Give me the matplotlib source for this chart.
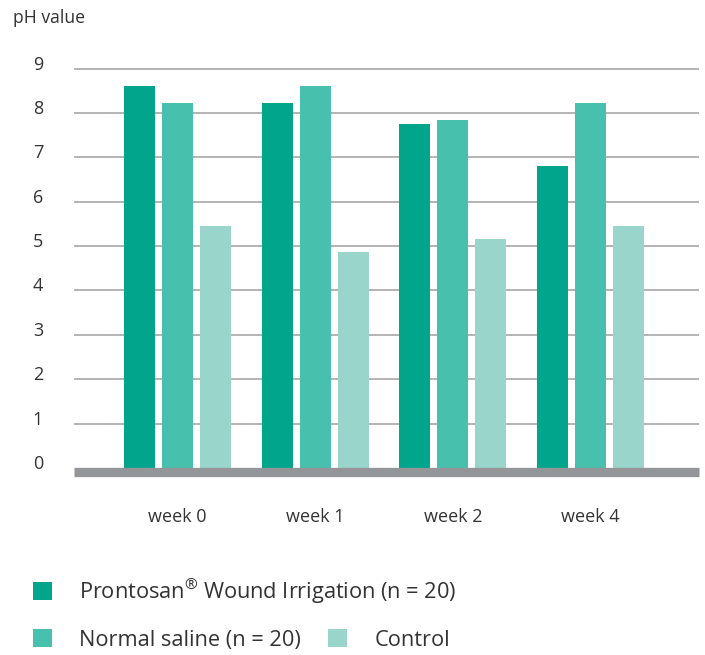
import matplotlib
matplotlib.use("Agg")
import matplotlib.pyplot as plt
import matplotlib.transforms as mtrans
import numpy as np

categories = ["week 0", "week 1", "week 2", "week 4"]
prontosan = [8.60, 8.22, 7.75, 6.80]
saline = [8.22, 8.60, 7.84, 8.22]
control = [5.45, 4.86, 5.16, 5.45]
series_labels = ["Prontosan$^{®}$ Wound Irrigation (n = 20)", "Normal saline (n = 20)", "Control"]
colors = ["#00a58b", "#47c0ad", "#99d5ca"]
yticks = [0, 1, 2, 3, 4, 5, 6, 7, 8, 9]

plt.rcParams["font.family"] = ["Open Sans", "DejaVu Sans"]
plt.rcParams["mathtext.fontset"] = "custom"
plt.rcParams["mathtext.rm"] = "Open Sans"
plt.rcParams["mathtext.default"] = "regular"

txt = "#333333"
W, H = 705, 655
fig = plt.figure(figsize=(W / 100, H / 100), dpi=100)
ax = fig.add_axes([74 / W, 1 - 468 / H, (699 - 74) / W, (468 - 68.5) / H])

x = np.arange(len(categories))
bw = 0.225
off = 0.275
b1 = ax.bar(x - off, prontosan, bw, color=colors[0], zorder=3, label=series_labels[0])
b2 = ax.bar(x, saline, bw, color=colors[1], zorder=3, label=series_labels[1])
b3 = ax.bar(x + off, control, bw, color=colors[2], zorder=3, label=series_labels[2])

ax.set_xlim(-0.754, 3.79)
ax.set_ylim(0, 9)
for y in yticks[1:]:
    ax.axhline(y, color="#aeaeae", lw=1.3, zorder=1, clip_on=False, solid_capstyle="butt")
base = ax.axhline(0, color="#939598", lw=6.7, zorder=4, clip_on=False, solid_capstyle="butt")
base.set_transform(ax.get_yaxis_transform() + mtrans.ScaledTranslation(0, -4.4 / 100, fig.dpi_scale_trans))

for s in ax.spines.values():
    s.set_visible(False)
ax.set_yticks(yticks)
ax.set_yticklabels([str(v) for v in yticks])
ax.tick_params(axis="y", length=0, pad=22.3, labelsize=13, labelcolor=txt)
for lab in ax.get_yticklabels():
    lab.set_transform(lab.get_transform() + mtrans.ScaledTranslation(0, 6 / 100, fig.dpi_scale_trans))
ax.set_xticks(x)
ax.set_xticklabels(categories)
ax.tick_params(axis="x", length=0, pad=29, labelsize=13, labelcolor=txt)

fig.text(13 / W, 1 - 18 / H, "pH value", fontsize=12.7, color=txt, ha="left", va="center")

leg_kw = dict(frameon=False, fontsize=15.7, handlelength=0.87, handleheight=0.87,
              handletextpad=1.24, labelcolor=txt, borderpad=0, borderaxespad=0)
l1 = fig.legend(handles=[b1], labels=[series_labels[0]], loc="center left",
                bbox_to_anchor=(33 / W, 1 - 591 / H), **leg_kw)
l2 = fig.legend(handles=[b2, b3], labels=series_labels[1:], loc="center left", ncol=2,
                columnspacing=1.25, bbox_to_anchor=(33 / W, 1 - 640 / H), **leg_kw)

fig.savefig("out.png", dpi=100)
